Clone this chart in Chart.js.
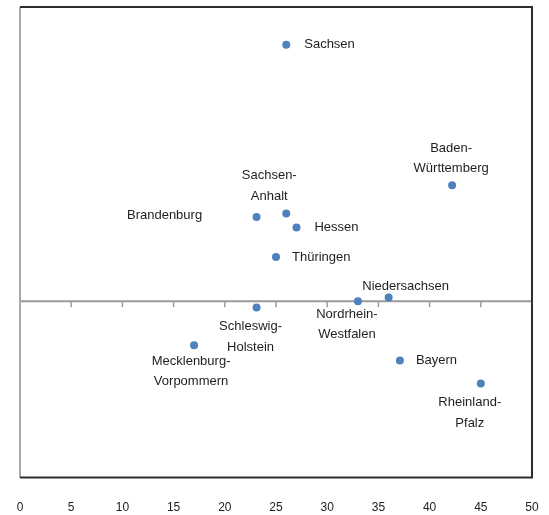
<!DOCTYPE html>
<html lang="de">
<head>
<meta charset="utf-8">
<title>Bundesländer</title>
<script src="https://cdn.jsdelivr.net/npm/chart.js@4.4.1/dist/chart.umd.min.js"></script>
<style>
  html, body { margin: 0; padding: 0; background: #fff; overflow: hidden; }
  canvas { display: block; }
</style>
</head>
<body>
<canvas id="chart" width="549" height="515"></canvas>
<script>
// Bundesländer scatter chart

const states = [
  'Sachsen', 'Baden-Württemberg', 'Brandenburg', 'Sachsen-Anhalt', 'Hessen', 'Thüringen',
  'Niedersachsen', 'Nordrhein-Westfalen', 'Schleswig-Holstein', 'Mecklenburg-Vorpommern',
  'Bayern', 'Rheinland-Pfalz'
];
const xValues = [26.0, 42.2, 23.1, 26.0, 27.0, 25.0, 36.0, 33.0, 23.1, 17.0, 37.1, 45.0];
const yValues = [4.36, 1.97, 1.43, 1.49, 1.25, 0.75, 0.06, 0.0, -0.11, -0.75, -1.01, -1.40];
const labelLines = [
  ['Sachsen'], ['Baden-', 'Württemberg'], ['Brandenburg'], ['Sachsen-', 'Anhalt'], ['Hessen'],
  ['Thüringen'], ['Niedersachsen'], ['Nordrhein-', 'Westfalen'], ['Schleswig-', 'Holstein'],
  ['Mecklenburg-', 'Vorpommern'], ['Bayern'], ['Rheinland-', 'Pfalz']
];
const xTicks = [0, 5, 10, 15, 20, 25, 30, 35, 40, 45, 50];

// where each label sits relative to its point (pixels)
const labelPlacement = [
  { dx: 18, dy: 0, align: 'left' },
  { dx: -1, dy: -37, align: 'center' },
  { dx: -92, dy: -2, align: 'center' },
  { dx: -17, dy: -38, align: 'center' },
  { dx: 18, dy: 0, align: 'left' },
  { dx: 16, dy: 0, align: 'left' },
  { dx: 17, dy: -11, align: 'center' },
  { dx: -11, dy: 13, align: 'center' },
  { dx: -6, dy: 19, align: 'center' },
  { dx: -3, dy: 16, align: 'center' },
  { dx: 16, dy: 0, align: 'left' },
  { dx: -11, dy: 19, align: 'center' }
];
const lineSpacing = 20.5;

Chart.defaults.font.family = '"Liberation Sans", Arial, sans-serif';

const points = xValues.map((x, i) => ({ x: x, y: yValues[i] }));

// Plot frame plus the horizontal zero line with its tick marks
const framePlugin = {
  id: 'frame',
  beforeDatasetsDraw(chart) {
    const { ctx, chartArea: a, scales } = chart;
    const y0 = scales.y.getPixelForValue(0);
    ctx.save();
    ctx.strokeStyle = '#9a9a9a';
    ctx.lineWidth = 2;
    ctx.beginPath();
    ctx.moveTo(a.left, y0);
    ctx.lineTo(a.right, y0);
    ctx.stroke();
    ctx.lineWidth = 1.5;
    xTicks.forEach(v => {
      const x = scales.x.getPixelForValue(v);
      ctx.beginPath();
      ctx.moveTo(x, y0);
      ctx.lineTo(x, y0 + 6);
      ctx.stroke();
    });
    ctx.restore();
  },
  afterDraw(chart) {
    const { ctx, chartArea: a } = chart;
    ctx.save();
    ctx.lineWidth = 2;
    ctx.strokeStyle = '#a8a8a8';
    ctx.beginPath();
    ctx.moveTo(a.left, a.bottom);
    ctx.lineTo(a.left, a.top);
    ctx.stroke();
    ctx.strokeStyle = '#2e2e2e';
    ctx.beginPath();
    ctx.moveTo(a.left, a.top);
    ctx.lineTo(a.right, a.top);
    ctx.lineTo(a.right, a.bottom);
    ctx.lineTo(a.left, a.bottom);
    ctx.stroke();
    ctx.restore();
  }
};

// Point labels
const labelPlugin = {
  id: 'pointLabels',
  afterDatasetsDraw(chart) {
    const ctx = chart.ctx;
    const meta = chart.getDatasetMeta(0);
    ctx.save();
    ctx.font = '13px "Liberation Sans", Arial, sans-serif';
    ctx.fillStyle = '#1e1e1e';
    ctx.textBaseline = 'middle';
    meta.data.forEach((pt, i) => {
      const p = labelPlacement[i];
      ctx.textAlign = p.align;
      labelLines[i].forEach((line, k) => {
        ctx.fillText(line, pt.x + p.dx, pt.y + p.dy + k * lineSpacing);
      });
    });
    ctx.restore();
  }
};

new Chart(document.getElementById('chart'), {
  type: 'scatter',
  data: {
    datasets: [{
      label: 'Bundesländer',
      data: points,
      backgroundColor: '#4f81bd',
      borderColor: '#4f81bd',
      borderWidth: 0,
      pointRadius: 4,
      pointHoverRadius: 4
    }]
  },
  options: {
    responsive: false,
    animation: false,
    devicePixelRatio: 1,
    layout: { padding: { left: 20, right: 17, top: 7, bottom: 0 } },
    plugins: {
      legend: { display: false },
      tooltip: { enabled: false }
    },
    scales: {
      x: {
        type: 'linear',
        min: 0,
        max: 50,
        afterBuildTicks: axis => { axis.ticks = xTicks.map(v => ({ value: v })); },
        // invisible tick marks only push the labels down
        grid: { display: true, drawOnChartArea: false, drawTicks: true, tickLength: 23, color: 'rgba(0,0,0,0)' },
        border: { display: false },
        ticks: {
          color: '#222',
          font: { size: 12 },
          padding: 0,
          maxRotation: 0,
          autoSkip: false
        }
      },
      y: {
        type: 'linear',
        min: -3,
        max: 5,
        display: false
      }
    }
  },
  plugins: [framePlugin, labelPlugin]
});
</script>
</body>
</html>
